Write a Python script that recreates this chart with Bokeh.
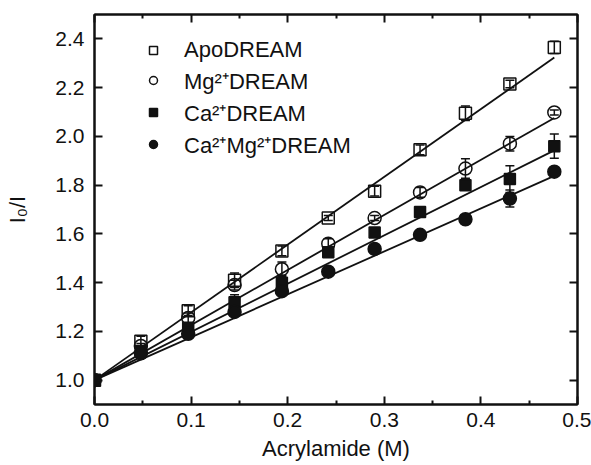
import numpy as np
from bokeh.plotting import figure
from bokeh.models import (ColumnDataSource, Whisker, TeeHead, LinearAxis, Range1d,
                          Legend, LegendItem, FixedTicker, PrintfTickFormatter,
                          CustomJSTickFormatter)
from bokeh.embed import file_html
from bokeh.resources import INLINE

# ---- data ----
acrylamide = [0.0, 0.048, 0.097, 0.145, 0.194, 0.242, 0.290, 0.337, 0.384, 0.430, 0.476]
apo = [1.0, 1.16, 1.285, 1.41, 1.53, 1.665, 1.775, 1.945, 2.095, 2.215, 2.365]
apo_err = [0.01, 0.02, 0.02, 0.03, 0.02, 0.01, 0.02, 0.02, 0.03, 0.015, 0.025]
mg = [1.0, 1.14, 1.255, 1.39, 1.455, 1.56, 1.665, 1.77, 1.868, 1.97, 2.098]
mg_err = [0.01, 0.01, 0.02, 0.02, 0.03, 0.02, 0.01, 0.02, 0.04, 0.03, 0.01]
ca = [1.0, 1.12, 1.215, 1.32, 1.40, 1.525, 1.606, 1.69, 1.80, 1.825, 1.96]
ca_err = [0.01, 0.01, 0.02, 0.03, 0.03, 0.02, 0.01, 0.02, 0.01, 0.055, 0.05]
camg = [1.0, 1.11, 1.19, 1.28, 1.365, 1.445, 1.538, 1.596, 1.66, 1.745, 1.855]
camg_err = [0.01, 0.01, 0.01, 0.01, 0.01, 0.01, 0.01, 0.01, 0.01, 0.035, 0.01]
series_names = ["ApoDREAM", "Mg²⁺DREAM", "Ca²⁺DREAM", "Ca²⁺Mg²⁺DREAM"]
ksv = [2.78, 2.26, 1.98, 1.76]  # Stern-Volmer slopes of the fitted lines

x_ticks = [0.0, 0.1, 0.2, 0.3, 0.4, 0.5]
x_minor = [0.05, 0.15, 0.25, 0.35, 0.45]
y_ticks = [1.0, 1.2, 1.4, 1.6, 1.8, 2.0, 2.2, 2.4]

FONT = "Liberation Sans"
INK = "#111111"

p = figure(width=591, height=465, output_backend="svg", toolbar_location=None,
           x_range=Range1d(0, 0.5), y_range=Range1d(0.9, 2.5),
           min_border_left=94, min_border_right=14, min_border_top=14,
           min_border_bottom=61)
p.grid.visible = False
p.outline_line_color = INK
p.outline_line_width = 2
p.background_fill_color = "white"
p.border_fill_color = "white"

bottom = p.below[0]
left = p.left[0]
bottom.axis_label = "Acrylamide (M)"
left.axis_label = "I₀/I"

top = LinearAxis()
right = LinearAxis()
p.add_layout(top, "above")
p.add_layout(right, "right")

for ax in [bottom, top]:
    ax.ticker = FixedTicker(ticks=x_ticks, minor_ticks=x_minor)
for ax in [left, right]:
    ax.ticker = FixedTicker(ticks=y_ticks, minor_ticks=[])

for ax in [bottom, left, top, right]:
    ax.axis_line_width = 2
    ax.axis_line_color = INK
    ax.major_tick_line_width = 2
    ax.major_tick_line_color = INK
    ax.minor_tick_line_width = 2
    ax.minor_tick_line_color = INK
    ax.major_tick_in = 8
    ax.major_tick_out = 0
    ax.minor_tick_in = 4
    ax.minor_tick_out = 0
    ax.major_label_text_font = FONT
    ax.major_label_text_font_size = "21px"
    ax.major_label_text_color = INK
    ax.axis_label_text_font = FONT
    ax.axis_label_text_font_size = "22px"
    ax.axis_label_text_font_style = "normal"
    ax.axis_label_text_color = INK

for ax in [top, right]:
    ax.formatter = CustomJSTickFormatter(code="return ''")
    ax.major_label_standoff = 0

bottom.formatter = PrintfTickFormatter(format="%.1f")
left.formatter = PrintfTickFormatter(format="%.1f")
bottom.major_label_standoff = 8
left.major_label_standoff = 10
bottom.axis_label_standoff = 6
left.axis_label_standoff = 22

values = [apo, mg, ca, camg]
errors = [apo_err, mg_err, ca_err, camg_err]
markers = ["square", "circle", "square", "circle"]
filled = [False, False, True, True]
sizes = [12, 13, 11, 13]

# fitted lines
xs_fit = np.array([acrylamide[0], acrylamide[-1]])
for k in ksv:
    p.line(xs_fit, 1 + k * xs_fit, line_color=INK, line_width=1.8)

items = []
for name, v, e, m, f, s in zip(series_names, values, errors, markers, filled, sizes):
    v = np.array(v)
    e = np.array(e)
    src = ColumnDataSource(dict(x=acrylamide, y=v, upper=v + e, lower=v - e))
    w = Whisker(source=src, base="x", upper="upper", lower="lower",
                line_color=INK, line_width=1.5,
                upper_head=TeeHead(size=9, line_color=INK, line_width=1.5),
                lower_head=TeeHead(size=9, line_color=INK, line_width=1.5))
    p.add_layout(w)
    r = p.scatter("x", "y", source=src, marker=m, size=s,
                  line_color=INK, line_width=1.5,
                  fill_color=INK if f else "white", fill_alpha=1.0 if f else 0.0)
    items.append(LegendItem(label=name, renderers=[r]))

legend = Legend(items=items, location=(49, 245), border_line_color=None,
                background_fill_alpha=0, label_text_font=FONT,
                label_text_font_size="22px", label_text_color=INK,
                glyph_width=20, glyph_height=20, label_standoff=21,
                spacing=2, padding=0, margin=0)
p.add_layout(legend)

open("out.html", "w").write(file_html(p, INLINE))
